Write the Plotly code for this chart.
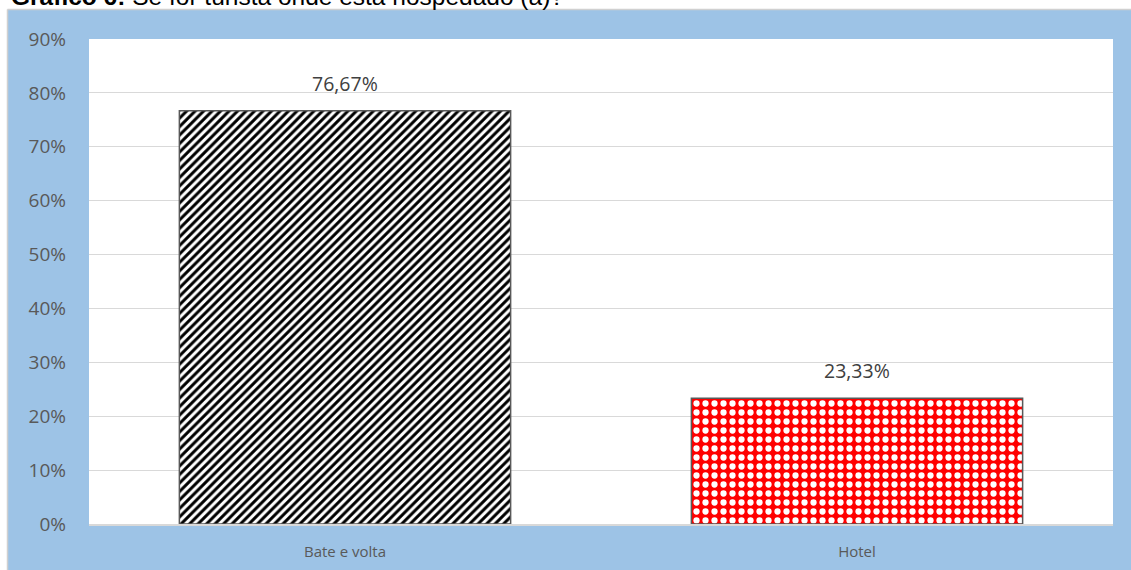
import plotly.graph_objects as go

categories = ["Bate e volta", "Hotel"]
values = [0.7667, 0.2333]
title_text = "<b>Gráfico 6:</b> Se for turista onde está hospedado (a)?"

W, H = 1131, 570
L, R, T, B = 89, 18, 39, 46
pw, ph = W - L - R, H - T - B

def px_x(p):
    return (p - L) / pw

def px_y(p):
    return (H - B - p) / ph

fig = go.Figure()
patterns = [
    dict(shape="/", fgcolor="#000000", bgcolor="#FFFFFF", size=6, solidity=0.5, fgopacity=1),
    dict(shape=".", fgcolor="#FFFFFF", bgcolor="#FF0000", size=9, solidity=0.38, fgopacity=1),
]
for i, (c, v) in enumerate(zip(categories, values)):
    fig.add_trace(go.Bar(
        x=[c], y=[v], width=0.647,
        marker=dict(color="#FFFFFF", pattern=patterns[i],
                    line=dict(color="#595959", width=1.5)),
        showlegend=False, hoverinfo="skip",
    ))

annotations = [
    dict(text=title_text, xref="paper", yref="paper", x=px_x(9), y=px_y(12),
         xanchor="left", yanchor="bottom", showarrow=False,
         font=dict(family="Liberation Sans", size=24.5, color="#000000")),
]
for c, v in zip(categories, values):
    annotations.append(dict(
        x=c, y=v, xref="x", yref="y", text=f"{v*100:.2f}%".replace(".", ","),
        showarrow=False, yanchor="bottom", yshift=12,
        font=dict(family="Open Sans", size=19.5, color="#404040"),
    ))

fig.update_layout(
    width=W, height=H,
    margin=dict(l=L, r=R, t=T, b=B, autoexpand=False),
    paper_bgcolor="#9DC3E6", plot_bgcolor="#FFFFFF",
    separators=",.",
    font=dict(family="Open Sans", color="#595959"),
    barmode="overlay",
    shapes=[
        dict(type="rect", xref="paper", yref="paper", x0=px_x(-5), x1=px_x(7.5),
             y0=px_y(H + 5), y1=px_y(-5), fillcolor="#FFFFFF", line=dict(width=0), layer="above"),
        dict(type="rect", xref="paper", yref="paper", x0=px_x(-5), x1=px_x(W + 5),
             y0=px_y(9.5), y1=px_y(-5), fillcolor="#FFFFFF", line=dict(width=0), layer="above"),
        dict(type="line", xref="paper", yref="paper", x0=px_x(7.5), x1=px_x(7.5),
             y0=px_y(H + 5), y1=px_y(9.5), line=dict(color="#D0D0D0", width=1.5), layer="above"),
        dict(type="line", xref="paper", yref="paper", x0=px_x(7.5), x1=px_x(W + 5),
             y0=px_y(9.5), y1=px_y(9.5), line=dict(color="#D0D0D0", width=1.5), layer="above"),
    ],
    annotations=annotations,
)
fig.update_yaxes(range=[0, 0.9], dtick=0.1, tickformat=".0%", gridcolor="#D9D9D9",
                 gridwidth=1, zeroline=False, showline=False, automargin=False,
                 tickfont=dict(size=19, color="#595959"), ticklabelstandoff=22)
fig.update_xaxes(showline=True, linecolor="#D9D9D9", linewidth=1.5, automargin=False,
                 tickfont=dict(size=15, color="#595959"), ticklabelstandoff=13)

fig.write_html("out.html", config={"displayModeBar": False},
               post_script="document.body.style.margin='0';document.body.style.overflow='hidden';")
